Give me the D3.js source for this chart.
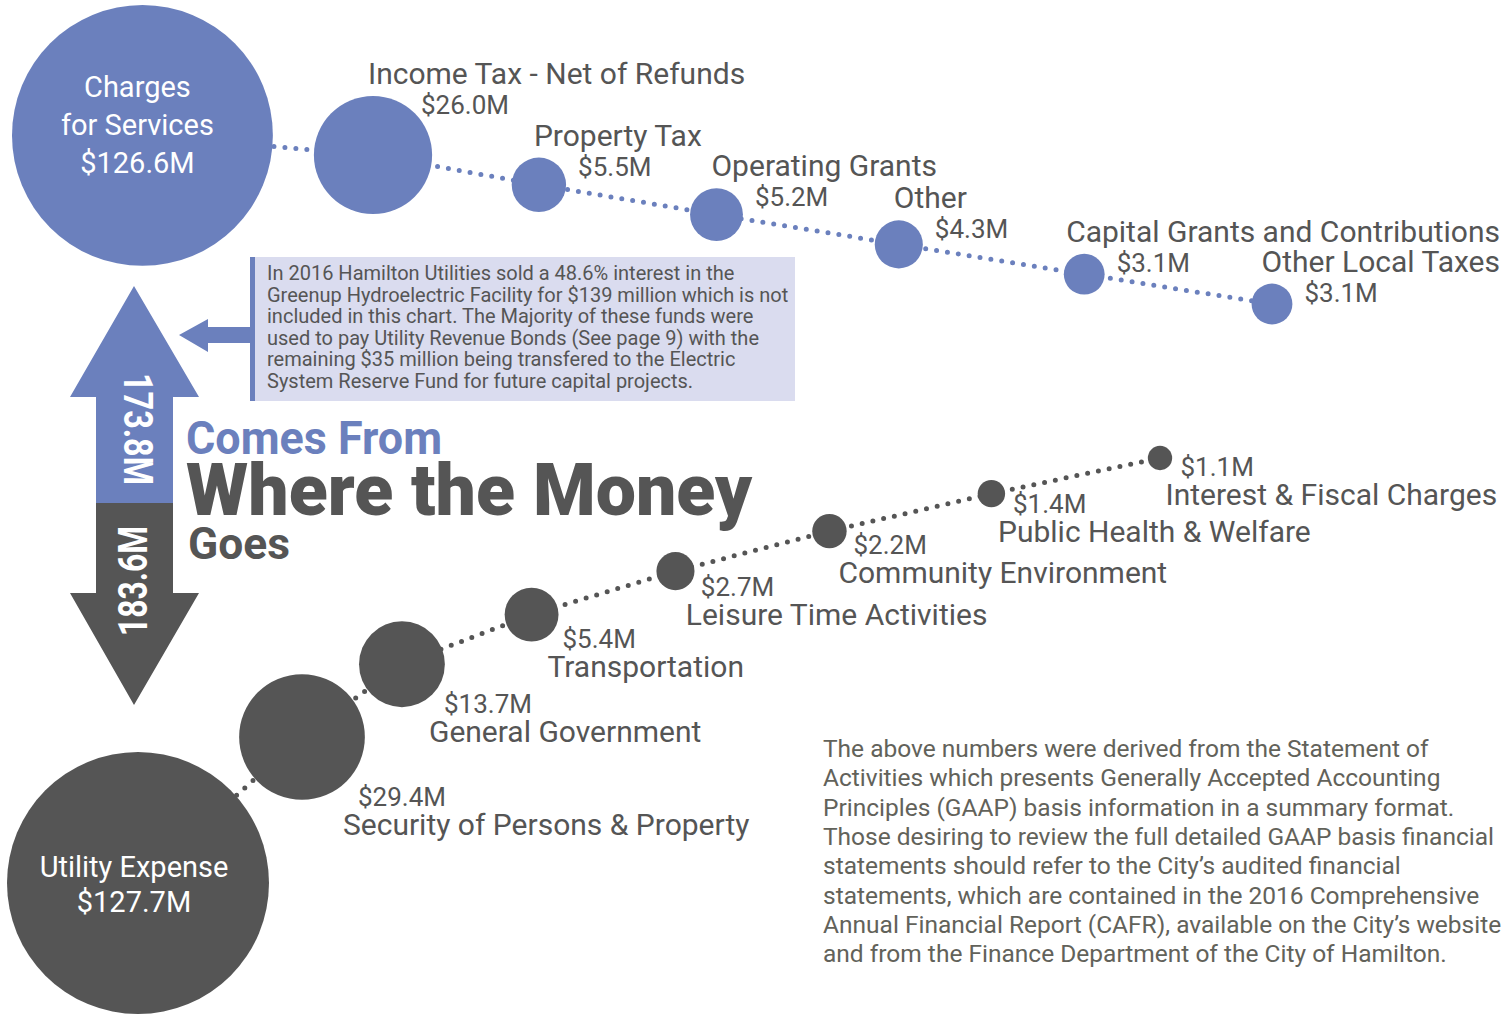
<!DOCTYPE html>
<html lang="en">
<head>
  <meta charset="UTF-8">
  <title>Where the Money Comes From / Goes</title>
  <script src="https://d3js.org/d3.v7.min.js"></script>
  <style>
    body { margin: 0; background: #fff; }
    text { font-family: Roboto, "Noto Sans", sans-serif; }
  </style>
</head>
<body>
<script>
  const width = 1511, height = 1014;
  const blue = '#6b80bd', grey = '#555555', ink = '#555555';

  // where the money comes from
  const incomeHubLines = ['Charges', 'for Services'];
  const incomeHubValue = 126.6;
  const incomeNames = ['Income Tax - Net of Refunds', 'Property Tax', 'Operating Grants', 'Other',
    'Capital Grants and Contributions', 'Other Local Taxes'];
  const incomeValues = [26.0, 5.5, 5.2, 4.3, 3.1, 3.1];

  // where the money goes
  const expenseHubLines = ['Utility Expense'];
  const expenseHubValue = 127.7;
  const expenseNames = ['Security of Persons & Property', 'General Government', 'Transportation',
    'Leisure Time Activities', 'Community Environment', 'Public Health & Welfare', 'Interest & Fiscal Charges'];
  const expenseValues = [29.4, 13.7, 5.4, 2.7, 2.2, 1.4, 1.1];

  // totals shown on the double arrow
  const flowTotals = [173.8, 183.6];

  const noteLines = [
    'In 2016 Hamilton Utilities sold a 48.6% interest in the',
    'Greenup Hydroelectric Facility for $139 million which is not',
    'included in this chart. The Majority of these funds were',
    'used to pay Utility Revenue Bonds (See page 9) with the',
    'remaining $35 million being transfered to the Electric',
    'System Reserve Fund for future capital projects.'
  ];
  const footLines = [
    'The above numbers were derived from the Statement of',
    'Activities which presents Generally Accepted Accounting',
    'Principles (GAAP) basis information in a summary format.',
    'Those desiring to review the full detailed GAAP basis financial',
    'statements should refer to the City\u2019s audited financial',
    'statements, which are contained in the 2016 Comprehensive',
    'Annual Financial Report (CAFR), available on the City\u2019s website',
    'and from the Finance Department of the City of Hamilton.'
  ];

  const fmt = v => '$' + d3.format('.1f')(v) + 'M';

  const svg = d3.select('body').append('svg')
    .attr('width', width).attr('height', height);

  // scales
  const r = d3.scaleSqrt().domain([0, expenseHubValue]).range([0, 131]);
  const incomeX = d3.scalePow().exponent(1.05).domain([0, incomeValues.length - 1]).range([373, 1272]);
  const incomeY = d3.scaleLinear().domain([0, incomeValues.length - 1]).range([155, 304]);
  const expenseX = d3.scalePow().exponent(1.2).domain([0, expenseValues.length - 1]).range([302, 1160]);
  const expenseY = d3.scalePow().exponent(0.75).domain([0, expenseValues.length - 1]).range([737, 458]);

  const incomeHub = {x: 12 + r(incomeHubValue), y: 5 + r(incomeHubValue), r: r(incomeHubValue)};
  const expenseHub = {x: 7 + r(expenseHubValue), y: height - r(expenseHubValue), r: r(expenseHubValue)};

  const incomeNodes = incomeValues.map((v, i) => ({name: incomeNames[i], value: v, x: incomeX(i), y: incomeY(i), r: r(v)}));
  const expenseNodes = expenseValues.map((v, i) => ({name: expenseNames[i], value: v, x: expenseX(i), y: expenseY(i), r: r(v)}));

  // note box with its little arrow
  svg.append('rect').attr('x', 250).attr('y', 257).attr('width', 545).attr('height', 144).attr('fill', '#dadcef');
  svg.append('rect').attr('x', 250).attr('y', 257).attr('width', 5).attr('height', 144).attr('fill', blue);
  svg.append('path').attr('fill', blue)
    .attr('d', 'M179,335 L208,319 L208,327 L250,327 L250,343 L208,343 L208,352 Z');
  svg.append('g').selectAll('text').data(noteLines).join('text')
    .attr('x', 267).attr('y', (d, i) => 280 + i * 21.5)
    .style('font-family', '"Liberation Sans Narrow", Roboto, sans-serif')
    .style('font-size', '20px').attr('fill', ink)
    .text(d => d);

  // double arrow
  svg.append('path').attr('fill', blue).attr('d', 'M134,286 L199,397 L173,397 L173,503 L96,503 L96,397 L70,397 Z');
  svg.append('path').attr('fill', grey).attr('d', 'M96,503 L173,503 L173,593 L199,593 L134,705 L70,593 L96,593 Z');
  svg.append('text').attr('transform', 'translate(124,429) rotate(90)')
    .attr('text-anchor', 'middle').attr('fill', '#fff')
    .style('font-family', '"Liberation Sans Narrow", Roboto, sans-serif').style('font-weight', 700)
    .style('font-size', '40px').attr('textLength', 112).attr('lengthAdjust', 'spacingAndGlyphs')
    .text(flowTotals[0] + 'M');
  svg.append('text').attr('transform', 'translate(147,581) rotate(-90)')
    .attr('text-anchor', 'middle').attr('fill', '#fff')
    .style('font-family', '"Liberation Sans Narrow", Roboto, sans-serif').style('font-weight', 700)
    .style('font-size', '40px').attr('textLength', 110).attr('lengthAdjust', 'spacingAndGlyphs')
    .text(flowTotals[1] + 'M');

  // titles
  svg.append('text').attr('x', 186).attr('y', 454).attr('fill', blue)
    .style('font-family', '"Liberation Sans Narrow", Roboto, sans-serif').style('font-weight', 700)
    .style('font-size', '46px').attr('textLength', 256).attr('lengthAdjust', 'spacingAndGlyphs')
    .text('Comes From');
  svg.append('text').attr('x', 186).attr('y', 515).attr('fill', grey)
    .style('font-weight', 900).style('font-size', '72px')
    .attr('textLength', 566).attr('lengthAdjust', 'spacingAndGlyphs')
    .text('Where the Money');
  svg.append('text').attr('x', 188).attr('y', 559).attr('fill', grey)
    .style('font-family', '"Liberation Sans Narrow", Roboto, sans-serif').style('font-weight', 700)
    .style('font-size', '44px').attr('textLength', 102).attr('lengthAdjust', 'spacingAndGlyphs')
    .text('Goes');

  // dotted connectors
  const line = d3.line().x(d => d.x).y(d => d.y);
  function drawChain(hub, nodes, color) {
    svg.append('path').datum([hub, ...nodes])
      .attr('d', line).attr('fill', 'none').attr('stroke', color)
      .attr('stroke-width', 5).attr('stroke-linecap', 'round')
      .attr('stroke-dasharray', '0 11');
    svg.append('g').selectAll('circle').data([hub, ...nodes]).join('circle')
      .attr('cx', d => d.x).attr('cy', d => d.y).attr('r', d => d.r)
      .attr('fill', color);
  }
  drawChain(incomeHub, incomeNodes, blue);
  drawChain(expenseHub, expenseNodes, grey);

  // hub labels
  svg.append('g').selectAll('text').data([...incomeHubLines, fmt(incomeHubValue)]).join('text')
    .attr('x', incomeHub.x - 5).attr('y', (d, i) => incomeHub.y - 38 + i * 38)
    .attr('text-anchor', 'middle').attr('fill', '#fff').style('font-size', '29px')
    .text(d => d);
  svg.append('g').selectAll('text').data([...expenseHubLines, fmt(expenseHubValue)]).join('text')
    .attr('x', expenseHub.x - 4).attr('y', (d, i) => expenseHub.y - 6 + i * 35)
    .attr('text-anchor', 'middle').attr('fill', '#fff').style('font-size', '29px')
    .text(d => d);

  const maxRight = 1500;

  // income labels: name above, value to the right
  incomeNodes.forEach(d => {
    const ny = d.y - d.r - 12;
    const t = svg.append('text').attr('y', ny).attr('fill', ink)
      .style('font-size', '30px').text(d.name);
    const len = t.node().getComputedTextLength();
    t.attr('x', Math.min(d.x - 5, maxRight - len));
    svg.append('text').attr('x', d.x + Math.min(d.r, 36) + 12).attr('y', ny + 30)
      .attr('fill', ink).style('font-size', '26px').text(fmt(d.value));
  });

  // expense labels: value then name, below right
  expenseNodes.forEach(d => {
    const vx = d.x + 0.7 * d.r + 12, vy = d.y + d.r + 6;
    svg.append('text').attr('x', vx).attr('y', vy)
      .attr('fill', ink).style('font-size', '26px').text(fmt(d.value));
    const t = svg.append('text').attr('y', vy + 29).attr('fill', ink)
      .style('font-size', '30px').text(d.name);
    const len = t.node().getComputedTextLength();
    t.attr('x', Math.min(vx - 15, maxRight - len));
  });

  // footnote
  svg.append('g').selectAll('text').data(footLines).join('text')
    .attr('x', 823).attr('y', (d, i) => 757 + i * 29.3)
    .attr('fill', '#62625a').style('font-size', '24.5px')
    .text(d => d);
</script>
</body>
</html>
